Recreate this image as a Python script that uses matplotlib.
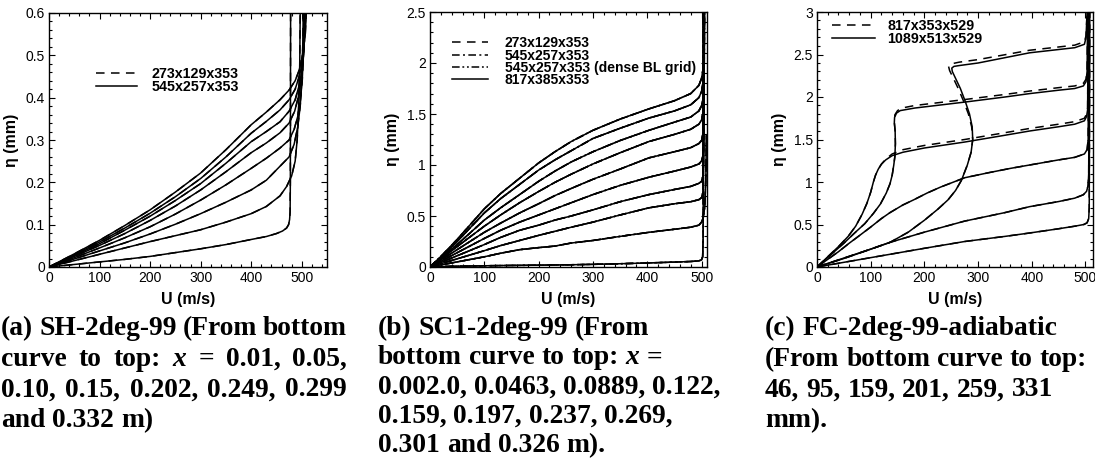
import matplotlib
matplotlib.use('Agg')
import matplotlib.pyplot as plt
from matplotlib.ticker import MultipleLocator, AutoMinorLocator, FuncFormatter
from matplotlib.transforms import IdentityTransform

# ---------------- data ----------------
# (a) SH-2deg-99 : stations x (m), bottom curve to top
a_grids = ['273x129x353', '545x257x353']
a_stations = [0.01, 0.05, 0.10, 0.15, 0.202, 0.249, 0.299, 0.332]
a_u_common = [0, 50, 100, 150, 200, 250, 300, 350, 400, 430]
a_eta_common = [
    [0, .006, .012, .018, .025, .034, .043, .053, .065, .072],
    [0, .015, .030, .045, .060, .074, .088, .106, .126, .143],
    [0, .019, .038, .057, .078, .101, .126, .153, .182, .205],
    [0, .022, .045, .069, .095, .125, .158, .194, .233, .257],
    [0, .025, .051, .079, .110, .144, .182, .225, .270, .293],
    [0, .027, .055, .087, .120, .157, .197, .245, .296, .320],
    [0, .029, .059, .092, .127, .166, .209, .260, .316, .344],
    [0, .031, .063, .098, .135, .177, .222, .277, .336, .366],
]
a_tail_u = [
    [450, 462, 470, 474, 476, 477, 477.5, 478],
    [457, 470, 480, 487, 491, 494, 496, 497],
    [457, 475, 485, 492, 497, 500, 502, 503],
    [457, 475, 485, 492, 497, 501, 503, 505],
    [457, 475, 486, 493, 498, 502, 504, 506],
    [457, 475, 487, 494, 499, 503, 505, 507],
    [457, 475, 487, 495, 500, 504, 506, 508],
    [457, 475, 487, 495, 500, 504, 507, 509],
]
a_tail_eta = [
    [.079, .085, .092, .100, .112, .130, .200, .600],
    [.168, .190, .215, .250, .300, .380, .470, .600],
    [.238, .260, .290, .330, .380, .440, .520, .600],
    [.281, .300, .325, .355, .390, .440, .500, .600],
    [.317, .340, .368, .400, .435, .470, .520, .600],
    [.343, .368, .395, .425, .455, .490, .540, .600],
    [.371, .395, .420, .450, .475, .510, .550, .600],
    [.395, .418, .440, .465, .490, .520, .550, .600],
]

# (b) SC1-2deg-99
b_grids = ['273x129x353', '545x257x353', '545x257x353 (dense BL grid)', '817x385x353']
b_stations = [0.002, 0.0463, 0.0889, 0.122, 0.159, 0.197, 0.237, 0.269, 0.301, 0.326]
b_u_common = [0, 25, 50, 75, 100, 130, 165, 200, 230, 260, 300, 350, 403, 450, 480, 495]
b_eta_common = [
    [0, .005, .008, .010, .012, .014, .016, .018, .020, .022, .026, .032, .040, .048, .054, .060],
    [0, .025, .050, .075, .100, .135, .170, .190, .205, .235, .260, .300, .340, .370, .390, .410],
    [0, .040, .080, .120, .160, .210, .260, .310, .350, .390, .440, .510, .580, .620, .640, .660],
    [0, .055, .110, .165, .220, .290, .360, .410, .460, .500, .560, .640, .710, .760, .790, .820],
    [0, .070, .140, .210, .280, .360, .440, .510, .570, .630, .710, .800, .880, .940, .980, 1.01],
    [0, .085, .170, .255, .340, .430, .530, .620, .700, .770, .860, .960, 1.07, 1.13, 1.17, 1.21],
    [0, .100, .200, .300, .400, .510, .630, .740, .830, .910, 1.01, 1.12, 1.23, 1.30, 1.35, 1.40],
    [0, .110, .220, .340, .460, .580, .710, .840, .940, 1.03, 1.13, 1.24, 1.34, 1.42, 1.47, 1.53],
    [0, .120, .250, .390, .530, .670, .810, .950, 1.05, 1.14, 1.26, 1.36, 1.46, 1.53, 1.59, 1.66],
    [0, .130, .270, .420, .570, .720, .870, 1.02, 1.13, 1.23, 1.34, 1.45, 1.55, 1.63, 1.70, 1.78],
]
b_tail_u = [
    [500, 502, 503, 503],
    [500, 503, 506, 508, 509],
    [500, 503, 503.5, 503.5],
    [500, 503, 504, 504],
    [500, 503, 504, 504],
    [500, 503, 504, 504],
    [500, 503, 504, 504],
    [500, 503, 504.5, 505],
    [500, 503, 505, 505],
    [500, 503, 505, 505.5],
]
b_tail_eta = [
    [.070, .100, .300, 2.5],
    [.440, .480, .600, .900, 1.29],
    [.680, .740, 1.00, 2.5],
    [.840, .900, 1.20, 2.5],
    [1.04, 1.10, 1.40, 2.5],
    [1.24, 1.32, 1.60, 2.5],
    [1.44, 1.52, 1.80, 2.5],
    [1.58, 1.66, 1.90, 2.5],
    [1.72, 1.82, 2.00, 2.5],
    [1.85, 1.95, 2.10, 2.5],
]

# (c) FC-2deg-99-adiabatic : stations (mm)
c_grids = ['817x353x529', '1089x513x529']
c_stations = [46, 95, 159, 201, 259, 331]
c_fine_u = [
    [0, 100, 200, 275, 350, 396, 450, 480, 497, 503, 506, 507, 508],
    [0, 100, 136, 200, 275, 350, 396, 450, 480, 496, 502, 505, 506, 507],
    [0, 20, 40, 60, 77, 100, 120, 136, 160, 180, 205, 230, 275, 320, 360, 396, 450, 480, 498, 503,
     505, 506],
    [0, 20, 40, 58, 72, 84, 93, 100, 105, 109, 114, 120, 128, 140, 160, 200, 275, 350, 396, 450,
     480, 498, 502, 504, 505],
    [0, 25, 50, 70, 89, 105, 118, 129, 136, 140, 143, 145, 146, 145.5, 144, 144.5, 148, 155, 182,
     275, 350, 396, 450, 480, 496, 501, 503, 504],
    [0, 50, 100, 136, 170, 200, 225, 244, 258, 269, 280, 287, 290, 289, 284, 276, 267, 258, 252,
     251, 255, 265, 300, 396, 480, 498, 501, 503],
]
c_fine_eta = [
    [0, .11, .22, .30, .36, .40, .45, .48, .50, .52, .57, .70, 3.0],
    [0, .21, .29, .41, .54, .64, .71, .77, .81, .85, .89, .96, 1.1, 3.0],
    [0, .09, .18, .28, .36, .47, .57, .64, .73, .79, .87, .94, 1.05, 1.11, 1.16, 1.20, 1.26, 1.29,
     1.33, 1.38, 1.50, 3.0],
    [0, .12, .24, .36, .48, .62, .75, .88, 1.00, 1.08, 1.15, 1.21, 1.26, 1.31, 1.35, 1.40, 1.47,
     1.55, 1.60, 1.65, 1.68, 1.72, 1.77, 1.85, 3.0],
    [0, .14, .28, .40, .51, .63, .74, .87, .98, 1.08, 1.20, 1.30, 1.45, 1.60, 1.70, 1.76, 1.81, 1.84,
     1.87, 1.94, 2.00, 2.04, 2.08, 2.10, 2.13, 2.18, 2.30, 3.0],
    [0, .10, .21, .29, .41, .55, .68, .79, .90, 1.02, 1.20, 1.35, 1.50, 1.65, 1.80, 1.95, 2.10, 2.22,
     2.30, 2.34, 2.36, 2.37, 2.40, 2.52, 2.58, 2.62, 2.70, 3.0],
]
c_coarse_u = [
    c_fine_u[0],
    c_fine_u[1],
    c_fine_u[2],
    [0, 20, 40, 58, 72, 84, 93, 100, 105, 109, 114, 120, 128, 140, 160, 200, 275, 350, 396, 450,
     480, 498, 502, 504, 505],
    [0, 25, 50, 70, 89, 105, 118, 129, 136, 140, 143, 145, 146, 145.5, 144, 145, 150, 158, 182,
     275, 350, 396, 450, 480, 496, 501, 503, 504],
    [0, 50, 100, 136, 170, 200, 225, 244, 258, 269, 280, 287, 290, 288, 282, 273, 263, 254, 247,
     245, 250, 265, 300, 396, 480, 498, 501, 503],
]
c_coarse_eta = [
    c_fine_eta[0],
    c_fine_eta[1],
    c_fine_eta[2],
    [0, .12, .24, .36, .48, .62, .75, .88, 1.00, 1.08, 1.15, 1.21, 1.27, 1.33, 1.38, 1.43, 1.50,
     1.58, 1.63, 1.68, 1.71, 1.75, 1.80, 1.87, 3.0],
    [0, .14, .28, .40, .51, .63, .74, .87, .98, 1.08, 1.20, 1.30, 1.45, 1.60, 1.70, 1.79, 1.84, 1.87,
     1.90, 1.97, 2.03, 2.07, 2.11, 2.13, 2.16, 2.21, 2.32, 3.0],
    [0, .10, .21, .29, .41, .55, .68, .79, .90, 1.02, 1.20, 1.35, 1.50, 1.65, 1.80, 1.95, 2.10, 2.22,
     2.31, 2.36, 2.39, 2.41, 2.44, 2.55, 2.61, 2.65, 2.72, 3.0],
]

captions = {
    'a': [[('(a)', 0), ('SH-2deg-99', 0), ('(From', 0), ('bottom', 0)],
          [('curve', 0), ('to', 0), ('top:', 0), ('x', 1), ('=', 0), ('0.01,', 0), ('0.05,', 0)],
          [('0.10,', 0), ('0.15,', 0), ('0.202,', 0), ('0.249,', 0), ('0.299', 0)],
          [('and', 0), ('0.332', 0), ('m)', 0)]],
    'b': [[('(b)', 0), ('SC1-2deg-99', 0), ('(From', 0)],
          [('bottom', 0), ('curve', 0), ('to', 0), ('top:', 0), ('x', 1), ('=', 0)],
          [('0.002.0,', 0), ('0.0463,', 0), ('0.0889,', 0), ('0.122,', 0)],
          [('0.159,', 0), ('0.197,', 0), ('0.237,', 0), ('0.269,', 0)],
          [('0.301', 0), ('and', 0), ('0.326', 0), ('m).', 0)]],
    'c': [[('(c)', 0), ('FC-2deg-99-adiabatic', 0)],
          [('(From', 0), ('bottom', 0), ('curve', 0), ('to', 0), ('top:', 0)],
          [('46,', 0), ('95,', 0), ('159,', 0), ('201,', 0), ('259,', 0), ('331', 0)],
          [('mm).', 0)]],
}

# ---------------- style ----------------
W, H = 1095, 467
fig = plt.figure(figsize=(W / 100, H / 100), dpi=100)
SANS = 'Liberation Sans'
SERIF = 'Liberation Serif'
LW = 1.1
DASH = (0, (5.6, 4.2))
DASHDOT = (0, (5.0, 2.2, 1.3, 2.2))
DASHDOTDOT = (0, (5.0, 1.8, 1.2, 1.8, 1.2, 1.8))


def make_ax(left, right, top, bottom):
    ax = fig.add_axes([left / W, 1 - bottom / H, (right - left) / W, (bottom - top) / H])
    for s in ax.spines.values():
        s.set_linewidth(1.0)
    ax.tick_params(which='both', direction='in', top=True, right=True, labelsize=10,
                   width=0.8, pad=3)
    ax.tick_params(which='major', length=4.5)
    ax.tick_params(which='minor', length=2.3)
    for lab in ax.get_xticklabels() + ax.get_yticklabels():
        lab.set_fontfamily(SANS)
    ax.xaxis.set_major_locator(MultipleLocator(100))
    ax.xaxis.set_minor_locator(AutoMinorLocator(5))
    ax.yaxis.set_minor_locator(AutoMinorLocator(5))
    ax.yaxis.set_major_formatter(FuncFormatter(lambda v, p: '%g' % round(v, 3)))
    ax.xaxis.set_major_formatter(FuncFormatter(lambda v, p: '%g' % v))
    ax.set_xlabel('U (m/s)', fontfamily=SANS, fontweight='bold', fontsize=11.5)
    ax.set_ylabel('η (mm)', fontfamily=SANS, fontweight='bold', fontsize=11.5)
    ax.xaxis.set_label_coords(0.5, -0.098)
    ax.yaxis.set_label_coords(-0.108, 0.5)
    return ax


def legend(ax, handles, labels, anchor, spacing, size, hl, pad):
    return ax.legend(handles, labels, loc='upper left', bbox_to_anchor=anchor, frameon=False,
                     borderpad=0, borderaxespad=0, handlelength=hl, handletextpad=pad,
                     labelspacing=spacing, prop={'family': SANS, 'weight': 'bold', 'size': size})


# ---- panel a ----
axA = make_ax(49, 327, 13, 267)
handles = []
for ls in [DASH, '-']:
    h = None
    for e, tu, te in zip(a_eta_common, a_tail_u, a_tail_eta):
        h, = axA.plot(a_u_common + tu, e + te, color='black', lw=LW, ls=ls)
    handles.append(h)
axA.set_xlim(0, 550)
axA.set_ylim(0, 0.6)
axA.yaxis.set_major_locator(MultipleLocator(0.1))
legend(axA, handles, a_grids, (0.17, 0.789), -0.04, 10.3, 2.87, 1.0)

# ---- panel b ----
axB = make_ax(430, 707, 12, 267)
handles = []
for ls in [DASH, DASHDOT, DASHDOTDOT, '-']:
    h = None
    for e, tu, te in zip(b_eta_common, b_tail_u, b_tail_eta):
        h, = axB.plot(b_u_common + tu, e + te, color='black', lw=LW, ls=ls)
    handles.append(h)
axB.set_xlim(0, 510)
axB.set_ylim(0, 2.5)
axB.yaxis.set_major_locator(MultipleLocator(0.5))
legend(axB, handles, b_grids, (0.08, 0.905), -0.12, 10.0, 2.6, 1.2)

# ---- panel c ----
axC = make_ax(817, 1093, 12, 267)
handles = []
h = None
for u, e in zip(c_coarse_u, c_coarse_eta):
    h, = axC.plot(u, e, color='black', lw=LW, ls=DASH)
handles.append(h)
for u, e in zip(c_fine_u, c_fine_eta):
    h, = axC.plot(u, e, color='black', lw=LW, ls='-')
handles.append(h)
axC.set_xlim(0, 514)
axC.set_ylim(0, 3)
axC.yaxis.set_major_locator(MultipleLocator(0.5))
legend(axC, handles, c_grids, (0.055, 0.973), -0.04, 10.3, 3.0, 0.84)

# ---- captions (word-placed, optionally justified) ----
CAP_SIZE = 19.8
renderer = fig.canvas.get_renderer()


def draw_line(words, x0, base, width=None):
    arts = []
    for w, it in words:
        t = fig.text(0, 0, w, fontsize=CAP_SIZE, fontfamily=SERIF, fontweight='bold',
                     fontstyle='italic' if it else 'normal', ha='left', va='baseline',
                     transform=IdentityTransform())
        arts.append(t)
    widths = [t.get_window_extent(renderer=renderer).width for t in arts]
    if width is None or len(arts) < 2:
        gap = 0.25 * CAP_SIZE * 100 / 72
    else:
        gap = (width - sum(widths)) / (len(arts) - 1)
    x = x0
    for t, wd in zip(arts, widths):
        t.set_position((x, H - base))
        x += wd + gap


for i, line in enumerate(captions['a']):
    draw_line(line, 1, 335 + 30.7 * i, 346 if i < 3 else None)
for i, line in enumerate(captions['b']):
    draw_line(line, 378, 335 + 29.3 * i)
for i, line in enumerate(captions['c']):
    draw_line(line, 765, 335 + 30.7 * i)

fig.savefig('out.png', dpi=100)
